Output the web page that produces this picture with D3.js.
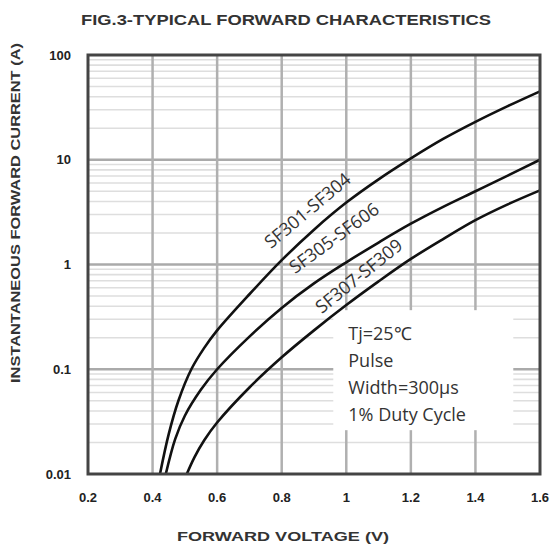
<!DOCTYPE html>
<html>
<head>
<meta charset="utf-8">
<script src="https://cdn.jsdelivr.net/npm/d3@7"></script>
<style>
  body { margin: 0; background: #fff; }
  svg { display: block; }
</style>
</head>
<body>
<div id="chart"></div>
<script>
// chart data
var xTicks = [0.2, 0.4, 0.6, 0.8, 1, 1.2, 1.4, 1.6];
var xTickLabels = ['0.2', '0.4', '0.6', '0.8', '1', '1.2', '1.4', '1.6'];
var yTicks = [0.01, 0.1, 1, 10, 100];
var yTickLabels = ['0.01', '0.1', '1', '10', '100'];

var seriesNames = ['SF301-SF304', 'SF305-SF606', 'SF307-SF309'];

var v1 = [0.423, 0.45, 0.48, 0.52, 0.56, 0.6, 0.7, 0.8, 0.9, 1.0, 1.1, 1.2, 1.3, 1.4, 1.5, 1.6];
var i1 = [0.01, 0.024, 0.05, 0.1, 0.16, 0.235, 0.52, 1.1, 2.15, 3.9, 6.5, 10.3, 15.8, 23, 32.5, 45];

var v2 = [0.441, 0.47, 0.5, 0.55, 0.6, 0.7, 0.8, 0.9, 1.0, 1.1, 1.2, 1.3, 1.4, 1.5, 1.6];
var i2 = [0.01, 0.0215, 0.036, 0.064, 0.1, 0.205, 0.385, 0.66, 1.05, 1.62, 2.45, 3.55, 5.0, 7.05, 10];

var v3 = [0.506, 0.53, 0.56, 0.6, 0.7, 0.8, 0.9, 1.0, 1.1, 1.2, 1.3, 1.4, 1.5, 1.6];
var i3 = [0.01, 0.0145, 0.021, 0.031, 0.067, 0.13, 0.235, 0.41, 0.69, 1.13, 1.75, 2.65, 3.75, 5.1];

var noteLines = ['Tj=25\u2103', 'Pulse', 'Width=300\u03bcs', '1% Duty Cycle'];

// set the dimensions and margins of the graph
var margin = {top: 55, right: 15, bottom: 73, left: 88},
    width = 555 - margin.left - margin.right,
    height = 547 - margin.top - margin.bottom;

var x = d3.scaleLinear().domain([0.2, 1.6]).range([0, width]);
var y = d3.scaleLog().domain([0.01, 100]).range([height, 0]);

var svg = d3.select('#chart').append('svg')
    .attr('width', 555)
    .attr('height', 547);

var g = svg.append('g')
    .attr('transform', 'translate(' + margin.left + ',' + margin.top + ')');

// minor horizontal grid (2..9 of every decade)
var minor = [];
[0.01, 0.1, 1, 10].forEach(function(d) {
  for (var k = 2; k <= 9; k++) minor.push(d * k);
});

g.selectAll('.minor')
    .data(minor)
  .enter().append('line')
    .attr('class', 'minor')
    .attr('x1', 0).attr('x2', width)
    .attr('y1', function(d) { return y(d); })
    .attr('y2', function(d) { return y(d); })
    .attr('stroke', '#dedede')
    .attr('stroke-width', 1.6);

// major horizontal grid
g.selectAll('.major')
    .data(yTicks.slice(1, -1))
  .enter().append('line')
    .attr('class', 'major')
    .attr('x1', 0).attr('x2', width)
    .attr('y1', function(d) { return y(d); })
    .attr('y2', function(d) { return y(d); })
    .attr('stroke', '#aaaaaa')
    .attr('stroke-width', 2.5);

// vertical grid
g.selectAll('.vgrid')
    .data(xTicks.slice(1, -1))
  .enter().append('line')
    .attr('class', 'vgrid')
    .attr('x1', function(d) { return x(d); })
    .attr('x2', function(d) { return x(d); })
    .attr('y1', 0).attr('y2', height)
    .attr('stroke', '#b0b0b0')
    .attr('stroke-width', 2.5);

// white box behind the test conditions
g.append('rect')
    .attr('x', x(1.0) - 13)
    .attr('y', y(0.4) + 4)
    .attr('width', 180)
    .attr('height', 120)
    .attr('fill', '#fff');

// curves
var line = d3.line()
    .x(function(d) { return x(d[0]); })
    .y(function(d) { return y(d[1]); })
    .curve(d3.curveCatmullRom.alpha(0.5));

var curves = [d3.zip(v1, i1), d3.zip(v2, i2), d3.zip(v3, i3)];

g.selectAll('.curve')
    .data(curves)
  .enter().append('path')
    .attr('class', 'curve')
    .attr('d', line)
    .attr('fill', 'none')
    .attr('stroke', '#111')
    .attr('stroke-width', 2.6);

// curve labels
var labelPos = [
  {v: 0.88, i: 3.28, a: -40},
  {v: 0.962, i: 1.79, a: -36},
  {v: 1.039, i: 0.776, a: -39}
];

g.selectAll('.clabel')
    .data(seriesNames)
  .enter().append('text')
    .attr('class', 'clabel')
    .attr('transform', function(d, i) {
      var p = labelPos[i];
      return 'translate(' + x(p.v) + ',' + y(p.i) + ') rotate(' + p.a + ')';
    })
    .attr('text-anchor', 'middle')
    .attr('dy', '0.35em')
    .attr('font-family', 'Open Sans, sans-serif')
    .attr('font-size', '18px')
    .attr('fill', '#333')
    .text(function(d) { return d; });

// test conditions
g.selectAll('.note')
    .data(noteLines)
  .enter().append('text')
    .attr('class', 'note')
    .attr('x', x(1.0) + 2)
    .attr('y', function(d, i) { return y(0.4) + 34 + i * 27; })
    .attr('font-family', 'Open Sans, sans-serif')
    .attr('font-size', '18px')
    .attr('fill', '#333')
    .text(function(d) { return d; });

// frame
g.append('rect')
    .attr('x', 0).attr('y', 0)
    .attr('width', width).attr('height', height)
    .attr('fill', 'none')
    .attr('stroke', '#444')
    .attr('stroke-width', 3);

// tick labels
g.selectAll('.xt')
    .data(xTicks)
  .enter().append('text')
    .attr('class', 'xt')
    .attr('x', function(d) { return x(d); })
    .attr('y', height + 28)
    .attr('text-anchor', 'middle')
    .attr('font-family', 'Liberation Sans, Arial, sans-serif')
    .attr('font-weight', 'bold')
    .attr('font-size', '13px')
    .attr('fill', '#222')
    .text(function(d, i) { return xTickLabels[i]; });

g.selectAll('.yt')
    .data(yTicks)
  .enter().append('text')
    .attr('class', 'yt')
    .attr('x', -17)
    .attr('y', function(d) { return y(d); })
    .attr('dy', '0.35em')
    .attr('text-anchor', 'end')
    .attr('font-family', 'Liberation Sans, Arial, sans-serif')
    .attr('font-weight', 'bold')
    .attr('font-size', '13px')
    .attr('fill', '#222')
    .text(function(d, i) { return yTickLabels[i]; });

// titles
svg.append('text')
    .attr('x', 286)
    .attr('y', 25)
    .attr('text-anchor', 'middle')
    .attr('font-family', 'Liberation Sans, Arial, sans-serif')
    .attr('font-weight', 'bold')
    .attr('font-size', '14px')
    .attr('textLength', 410)
    .attr('lengthAdjust', 'spacingAndGlyphs')
    .attr('fill', '#333')
    .text('FIG.3-TYPICAL FORWARD CHARACTERISTICS');

svg.append('text')
    .attr('x', 283)
    .attr('y', 541)
    .attr('text-anchor', 'middle')
    .attr('font-family', 'Liberation Sans, Arial, sans-serif')
    .attr('font-weight', 'bold')
    .attr('font-size', '12px')
    .attr('textLength', 212)
    .attr('lengthAdjust', 'spacingAndGlyphs')
    .attr('fill', '#333')
    .text('FORWARD VOLTAGE (V)');

svg.append('text')
    .attr('transform', 'translate(20,213) rotate(-90)')
    .attr('text-anchor', 'middle')
    .attr('font-family', 'Liberation Sans, Arial, sans-serif')
    .attr('font-weight', 'bold')
    .attr('font-size', '13px')
    .attr('textLength', 340)
    .attr('lengthAdjust', 'spacingAndGlyphs')
    .attr('fill', '#333')
    .text('INSTANTANEOUS FORWARD CURRENT (A)');
</script>
</body>
</html>
